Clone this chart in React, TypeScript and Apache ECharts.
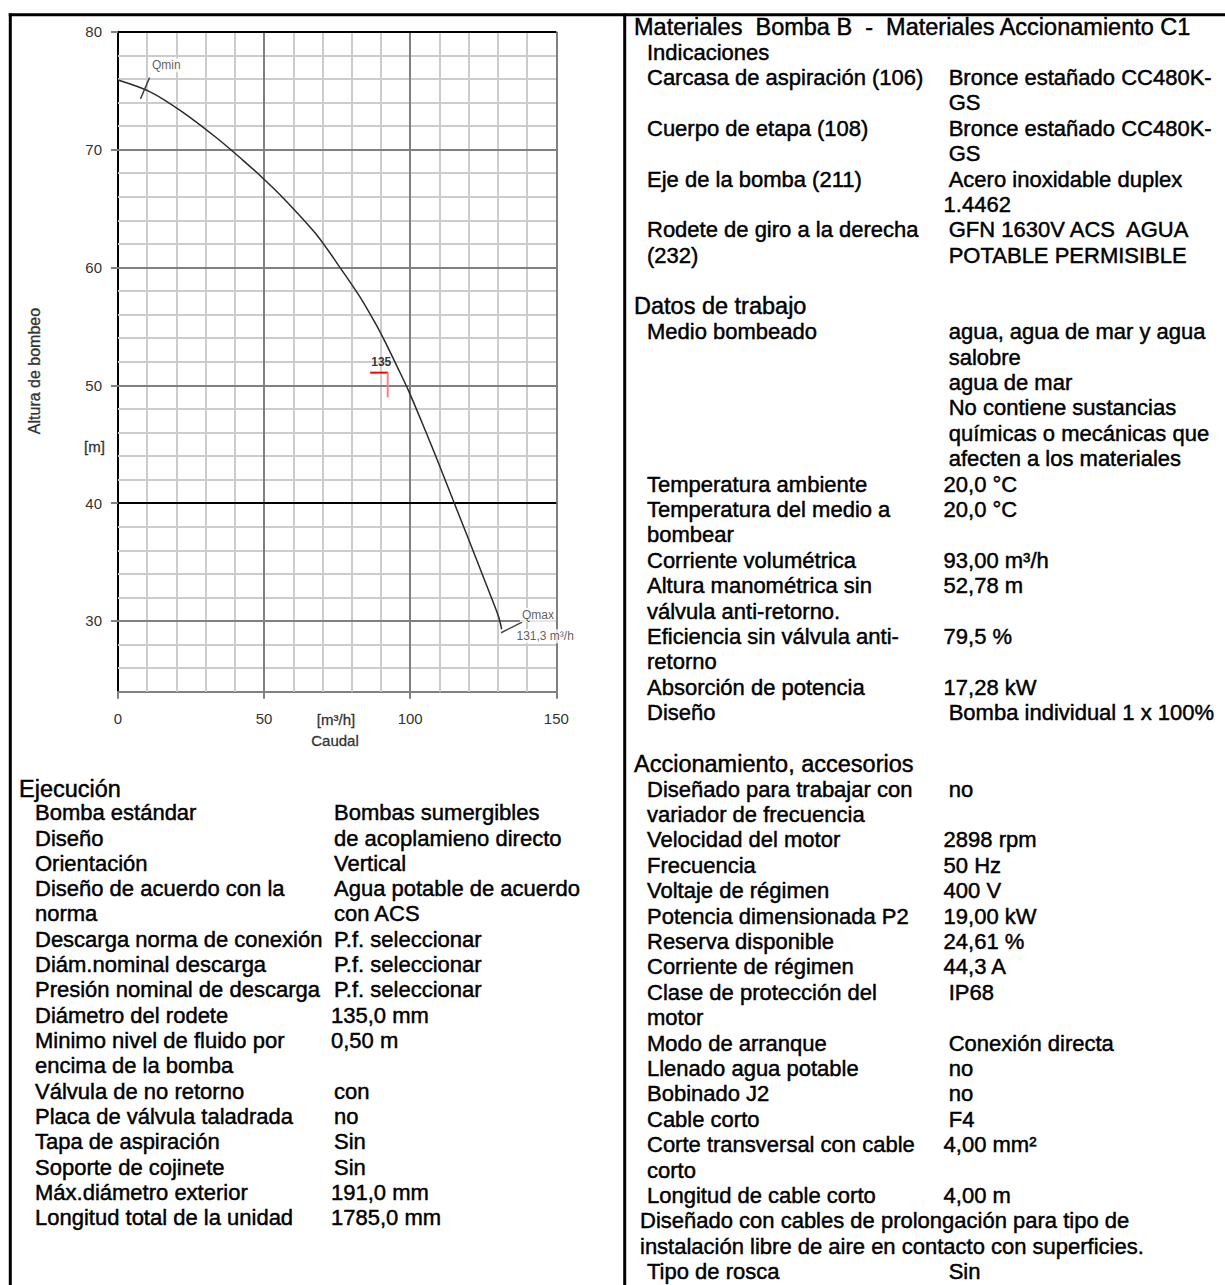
import React, { useEffect, useRef } from 'react';
import * as echarts from 'echarts';

// ---------- chart data ----------
const curveQ = [0, 11, 22, 33.7, 42.5, 49.7, 57.1, 67.9, 75.4, 82.8, 88.2, 91.6, 95.7, 99.5, 105.1, 109.2, 114.6, 119.4, 123.5, 126.8, 130.2, 131.3];
const curveH = [75.9, 74.9, 73.2, 71.0, 69.15, 67.55, 65.75, 62.8, 60.2, 57.5, 55.2, 53.6, 51.5, 49.5, 46.2, 43.7, 40.3, 37.3, 34.7, 32.6, 30.4, 29.3];
const xTickValues = [0, 50, 100, 150];
const yTickValues = [30, 40, 50, 60, 70, 80];
const xMinorLines = [10, 20, 30, 40, 60, 70, 80, 90, 110, 120, 130, 140];
const yMinorLines = [26, 28, 32, 34, 36, 38, 42, 44, 46, 48, 52, 54, 56, 58, 62, 64, 66, 68, 72, 74, 76, 78];
const xMajorLines = [50, 100, 150];
const yGrayLines = [30, 50, 60, 70];
const yBlackLines = [40, 80];
const qminTick = [[10.8, 76.1], [7.7, 74.3]];
const qmaxTick = [[131.1, 29.0], [138.3, 29.9]];
const dutyHoriz = [[86.3, 51.07], [92.4, 51.07]];
const dutyVert = [[92.3, 51.07], [92.3, 48.98]];
const annotQ = [16.5, 143.7, 146.2, 90.1];
const annotH = [77.15, 30.5, 28.7, 51.97];
const annotText = ['Qmin', 'Qmax', '131,3 m³/h', '135'];

// ---------- table texts ----------
const ejecucionTitle = 'Ejecución';
const ejecucionRows: [string, string][] = [
  ['Bomba estándar', 'Bombas sumergibles'],
  ['Diseño', 'de acoplamieno directo'],
  ['Orientación', 'Vertical'],
  ['Diseño de acuerdo con la', 'Agua potable de acuerdo'],
  ['norma', 'con ACS'],
  ['Descarga norma de conexión', 'P.f. seleccionar'],
  ['Diám.nominal descarga', 'P.f. seleccionar'],
  ['Presión nominal de descarga', 'P.f. seleccionar'],
  ['Diámetro del rodete', '135,0 mm'],
  ['Minimo nivel de fluido por', '0,50 m'],
  ['encima de la bomba', ''],
  ['Válvula de no retorno', 'con'],
  ['Placa de válvula taladrada', 'no'],
  ['Tapa de aspiración', 'Sin'],
  ['Soporte de cojinete', 'Sin'],
  ['Máx.diámetro exterior', '191,0 mm'],
  ['Longitud total de la unidad', '1785,0 mm'],
];

// kind: h = header, r = row, n = note line, b = blank
const rightLines: [string, string, string][] = [
  ['h', 'Materiales  Bomba B  -  Materiales Accionamiento C1', ''],
  ['r', 'Indicaciones', ''],
  ['r', 'Carcasa de aspiración (106)', 'Bronce estañado CC480K-'],
  ['r', '', 'GS'],
  ['r', 'Cuerpo de etapa (108)', 'Bronce estañado CC480K-'],
  ['r', '', 'GS'],
  ['r', 'Eje de la bomba (211)', 'Acero inoxidable duplex'],
  ['r', '', '1.4462'],
  ['r', 'Rodete de giro a la derecha', 'GFN 1630V ACS  AGUA'],
  ['r', '(232)', 'POTABLE PERMISIBLE'],
  ['b', '', ''],
  ['h', 'Datos de trabajo', ''],
  ['r', 'Medio bombeado', 'agua, agua de mar y agua'],
  ['r', '', 'salobre'],
  ['r', '', 'agua de mar'],
  ['r', '', 'No contiene sustancias'],
  ['r', '', 'químicas o mecánicas que'],
  ['r', '', 'afecten a los materiales'],
  ['r', 'Temperatura ambiente', '20,0 °C'],
  ['r', 'Temperatura del medio a', '20,0 °C'],
  ['r', 'bombear', ''],
  ['r', 'Corriente volumétrica', '93,00 m³/h'],
  ['r', 'Altura manométrica sin', '52,78 m'],
  ['r', 'válvula anti-retorno.', ''],
  ['r', 'Eficiencia sin válvula anti-', '79,5 %'],
  ['r', 'retorno', ''],
  ['r', 'Absorción de potencia', '17,28 kW'],
  ['r', 'Diseño', 'Bomba individual 1 x 100%'],
  ['b', '', ''],
  ['h', 'Accionamiento, accesorios', ''],
  ['r', 'Diseñado para trabajar con', 'no'],
  ['r', 'variador de frecuencia', ''],
  ['r', 'Velocidad del motor', '2898 rpm'],
  ['r', 'Frecuencia', '50 Hz'],
  ['r', 'Voltaje de régimen', '400 V'],
  ['r', 'Potencia dimensionada P2', '19,00 kW'],
  ['r', 'Reserva disponible', '24,61 %'],
  ['r', 'Corriente de régimen', '44,3 A'],
  ['r', 'Clase de protección del', 'IP68'],
  ['r', 'motor', ''],
  ['r', 'Modo de arranque', 'Conexión directa'],
  ['r', 'Llenado agua potable', 'no'],
  ['r', 'Bobinado J2', 'no'],
  ['r', 'Cable corto', 'F4'],
  ['r', 'Corte transversal con cable', '4,00 mm²'],
  ['r', 'corto', ''],
  ['r', 'Longitud de cable corto', '4,00 m'],
  ['n', 'Diseñado con cables de prolongación para tipo de', ''],
  ['n', 'instalación libre de aire en contacto con superficies.', ''],
  ['r', 'Tipo de rosca', 'Sin'],
];

const FONT = '"Liberation Sans", Arial, sans-serif';

function txt(text: string, x: number, y: number, size: number, extra: any = {}) {
  return {
    type: 'text',
    x,
    y,
    silent: true,
    z: 10,
    style: {
      text,
      fontSize: size,
      fontFamily: FONT,
      fill: '#000',
      stroke: '#000',
      lineWidth: 0.45,
      align: 'left',
      verticalAlign: 'middle',
      textAlign: 'left',
      textVerticalAlign: 'middle',
      ...extra,
    },
  };
}

const isDigitStart = (s: string) => /^[0-9]/.test(s);

export default function App() {
  const ref = useRef<HTMLDivElement>(null);

  useEffect(() => {
    if (!ref.current) return;
    const chart = echarts.init(ref.current, undefined, { renderer: 'svg' });

    const graphics: any[] = [];
    // frame
    graphics.push({ type: 'line', silent: true, shape: { x1: 8.8, y1: 14.8, x2: 1225, y2: 14.8 }, style: { stroke: '#000', lineWidth: 3 } });
    graphics.push({ type: 'line', silent: true, shape: { x1: 10.3, y1: 13.5, x2: 10.3, y2: 1285 }, style: { stroke: '#000', lineWidth: 3 } });
    graphics.push({ type: 'line', silent: true, shape: { x1: 624.7, y1: 13.5, x2: 624.7, y2: 1285 }, style: { stroke: '#000', lineWidth: 3 } });

    // left table
    const leftStep = 25.31;
    const leftY0 = 812.7;
    graphics.push(txt(ejecucionTitle, 19, leftY0 - leftStep + 1.5, 23.5));
    ejecucionRows.forEach(([label, value], i) => {
      const y = leftY0 + i * leftStep;
      if (label) graphics.push(txt(label, 35, y, 22));
      if (value) graphics.push(txt(value, isDigitStart(value) ? 331 : 334, y, 22));
    });

    // right table
    const rightStep = 25.41;
    const rightY0 = 26.7;
    rightLines.forEach(([kind, label, value], i) => {
      const y = rightY0 + i * rightStep;
      if (kind === 'h') graphics.push(txt(label, 634, y, 23.5));
      else if (kind === 'n') graphics.push(txt(label, 640, y, 22));
      else if (kind === 'r') {
        if (label) graphics.push(txt(label, 647, y, 22));
        if (value) graphics.push(txt(value, isDigitStart(value) ? 943.6 : 948.7, y, 22));
      }
    });

    // axis titles
    const axisTitleStyle = { align: 'center', textAlign: 'center', fill: '#333', stroke: '#333', lineWidth: 0.3 };
    const yTitle: any = txt('Altura de bombeo', 34, 371, 16, axisTitleStyle);
    yTitle.rotation = Math.PI / 2;
    graphics.push(yTitle);
    graphics.push(txt('[m]', 94.5, 446, 15, axisTitleStyle));
    graphics.push(txt('[m³/h]', 336, 719, 15, axisTitleStyle));
    graphics.push(txt('Caudal', 335, 740, 15, axisTitleStyle));

    const grayStyle = { color: '#808080', width: 2, type: 'solid' };
    const blackStyle = { color: '#000', width: 2, type: 'solid' };
    const majorMarks = [
      ...xMajorLines.map((v) => ({ xAxis: v, lineStyle: { ...grayStyle } })),
      ...yGrayLines.map((v) => ({ yAxis: v, lineStyle: { ...grayStyle } })),
      ...yBlackLines.map((v) => ({ yAxis: v, lineStyle: { ...blackStyle } })),
    ];

    const annotData = annotText.map((t, i) => ({
      value: [annotQ[i], annotH[i], t],
      label: i === 3
        ? { fontSize: 12, fontWeight: 'bold', color: '#000' }
        : { fontSize: 12, backgroundColor: '#fff', padding: [1, 2] },
    }));

    const minorLineColor = '#cccccc';

    chart.setOption({
      animation: false,
      backgroundColor: '#fff',
      grid: { left: 118, top: 31.7, width: 438.3, height: 660, containLabel: false },
      xAxis: [
        {
          type: 'value', min: 0, max: 150, interval: 50, gridIndex: 0, position: 'bottom',
          axisLine: { show: true, onZero: false, lineStyle: { color: '#808080', width: 2 } },
          axisTick: { show: true, length: 7, customValues: xTickValues, lineStyle: { color: '#808080', width: 2 } },
          axisLabel: { show: true, customValues: xTickValues, fontSize: 15, color: '#333', fontFamily: FONT, margin: 19 },
          splitLine: { show: false },
        },
      ],
      yAxis: [
        {
          type: 'value', min: 24, max: 80, interval: 2, gridIndex: 0, position: 'left',
          axisLine: { show: true, onZero: false, lineStyle: { color: '#000', width: 2 } },
          axisTick: { show: true, length: 7, customValues: yTickValues, lineStyle: { color: '#808080', width: 2 } },
          axisLabel: {
            show: true, customValues: yTickValues, fontSize: 15, color: '#333', fontFamily: FONT, margin: 16,
            formatter: (v: number) => (yTickValues.indexOf(v) >= 0 ? String(v) : ''),
          },
          splitLine: { show: false },
        },
      ],
      series: [
        {
          type: 'line', data: [], silent: true, z: 1,
          markLine: {
            silent: true, symbol: ['none', 'none'], label: { show: false },
            lineStyle: { color: minorLineColor, width: 2, type: 'solid' },
            data: [
              ...xMinorLines.map((v) => ({ xAxis: v })),
              ...yMinorLines.map((v) => ({ yAxis: v })),
            ],
          },
        },
        {
          type: 'line', data: [], silent: true, z: 2,
          markLine: { silent: true, symbol: ['none', 'none'], label: { show: false }, data: majorMarks },
        },
        {
          type: 'line', z: 5,
          data: curveQ.map((q, i) => [q, curveH[i]]),
          smooth: 0.3, showSymbol: false, symbol: 'none',
          lineStyle: { color: '#2a2a2a', width: 1.5 },
        },
        { type: 'line', z: 5, data: qminTick, symbol: 'none', lineStyle: { color: '#444', width: 1.5 } },
        { type: 'line', z: 5, data: qmaxTick, symbol: 'none', lineStyle: { color: '#444', width: 1.5 } },
        { type: 'line', z: 6, data: dutyHoriz, symbol: 'none', lineStyle: { color: '#ff0000', width: 2 } },
        { type: 'line', z: 6, data: dutyVert, symbol: 'none', lineStyle: { color: '#ff7f7f', width: 2 } },
        {
          type: 'scatter', z: 7, symbolSize: 0,
          data: annotData,
          label: {
            show: true, position: 'inside', fontFamily: FONT, color: '#333',
            formatter: (p: any) => p.value[2],
          },
        },
      ],
      graphic: { elements: graphics },
    });

    return () => {
      chart.dispose();
    };
  }, []);

  return (
    <div
      ref={ref}
      style={{ position: 'absolute', left: 0, top: 0, width: 1225, height: 1285, background: '#fff' }}
    />
  );
}
